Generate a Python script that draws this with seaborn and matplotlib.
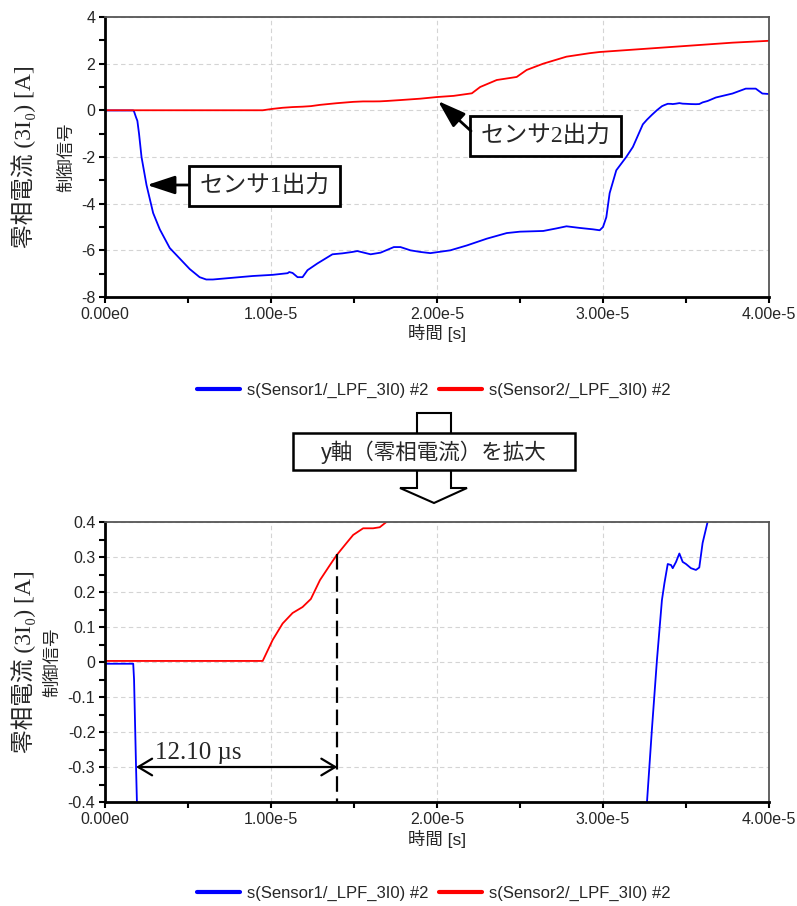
import numpy as np
import pandas as pd
import matplotlib
matplotlib.use("Agg")
import matplotlib.pyplot as plt
import seaborn as sns
from matplotlib.patches import Rectangle, Polygon
from matplotlib.lines import Line2D
from matplotlib.ticker import MultipleLocator

sns.set_style("white")
plt.rcParams["font.family"] = ["Liberation Sans", "Noto Sans CJK JP", "DejaVu Sans"]

# ---------------- data (time in microseconds, current in A) ----------------
t1_us = [0.0, 1.0, 1.70, 1.75, 1.87, 1.95, 2.05, 2.2, 2.5, 2.9, 3.3, 3.9, 4.5, 5.1, 5.7, 6.1,
         6.5, 7.3, 8.9, 10.1, 11.0, 11.1, 11.3, 11.6, 11.9, 12.2, 12.8, 13.4, 13.7,
         14.3, 14.9, 15.2, 15.6, 16.0, 16.6, 17.4, 17.8, 18.4, 19.0, 19.6, 20.8, 21.8,
         23.0, 24.2, 25.0, 26.4, 27.2, 27.8, 28.6, 29.4, 29.8, 30.0, 30.2, 30.4, 30.8,
         31.4, 31.8, 32.4, 32.65, 32.95, 33.25, 33.55, 33.7, 33.9, 34.1, 34.2, 34.4,
         34.6, 34.8, 35.0, 35.3, 35.6, 35.8, 36.0, 36.3, 36.8, 37.8, 38.6, 39.2, 39.6, 40.0]
s1 = [-0.005, -0.005, -0.005, -0.05, -0.30, -0.45, -1.0, -2.0, -3.2, -4.4, -5.1, -5.9, -6.35,
      -6.8, -7.15, -7.25, -7.25, -7.2, -7.1, -7.05, -6.98, -6.93, -6.97, -7.15, -7.15,
      -6.85, -6.56, -6.3, -6.17, -6.13, -6.07, -6.03, -6.1, -6.17, -6.1, -5.86, -5.86,
      -6.0, -6.07, -6.12, -6.0, -5.79, -5.5, -5.26, -5.2, -5.17, -5.06, -4.97, -5.04,
      -5.1, -5.14, -5.0, -4.58, -3.55, -2.57, -2.0, -1.57, -0.6, -0.40, -0.19, 0.006,
      0.177, 0.225, 0.28, 0.277, 0.268, 0.286, 0.31, 0.286, 0.28, 0.268, 0.263, 0.27,
      0.34, 0.40, 0.55, 0.72, 0.93, 0.93, 0.72, 0.70]

t2_us = [0.0, 5.0, 9.5, 10.1, 10.7, 11.3, 11.9, 12.4, 12.95, 13.55, 13.95, 14.55, 14.95,
         15.55, 16.15, 16.55, 16.95, 17.8, 19.0, 20.0, 21.0, 22.1, 22.6, 23.6, 24.8, 25.4,
         26.4, 27.8, 29.2, 29.8, 31.8, 33.8, 35.8, 37.8, 40.0]
s2 = [0.003, 0.003, 0.003, 0.063, 0.11, 0.14, 0.157, 0.18, 0.234, 0.277, 0.305, 0.34,
      0.363, 0.382, 0.382, 0.385, 0.40, 0.44, 0.50, 0.57, 0.62, 0.73, 1.0, 1.3, 1.43,
      1.73, 2.0, 2.3, 2.45, 2.5, 2.6, 2.7, 2.8, 2.9, 2.98]

series_names = ["s(Sensor1/_LPF_3I0) #2", "s(Sensor2/_LPF_3I0) #2"]
series_colors = ["#0000ff", "#ff0000"]

x_ticks = [0.0, 1e-5, 2e-5, 3e-5, 4e-5]
x_tick_labels = ["0.00e0", "1.00e-5", "2.00e-5", "3.00e-5", "4.00e-5"]
y_ticks_top = [4, 2, 0, -2, -4, -6, -8]
y_tick_labels_top = ["4", "2", "0", "-2", "-4", "-6", "-8"]
y_ticks_bot = [0.4, 0.3, 0.2, 0.1, 0.0, -0.1, -0.2, -0.3, -0.4]
y_tick_labels_bot = ["0.4", "0.3", "0.2", "0.1", "0", "-0.1", "-0.2", "-0.3", "-0.4"]

big_ylabel = "零相電流 (3I₀) [A]"
small_ylabel = "制御信号"
xlabel = "時間 [s]"
label1 = "センサ1出力"
label2 = "センサ2出力"
zoom_label = "y軸（零相電流）を拡大"
delta_label = "12.10 µs"

df = pd.concat([
    pd.DataFrame({"time": np.array(t1_us) * 1e-6, "value": s1, "series": series_names[0]}),
    pd.DataFrame({"time": np.array(t2_us) * 1e-6, "value": s2, "series": series_names[1]}),
], ignore_index=True)
palette = dict(zip(series_names, series_colors))

W, H = 797, 906
fig = plt.figure(figsize=(W / 100, H / 100), dpi=100)

def fx(px):
    return px / W

def fy(py):
    return 1 - py / H

ax1 = fig.add_axes([fx(105), fy(297), fx(769) - fx(105), fy(17) - fy(297)])
ax2 = fig.add_axes([fx(105), fy(802), fx(769) - fx(105), fy(522) - fy(802)])

serif_cjk = ["Liberation Serif", "Noto Sans CJK JP", "DejaVu Serif"]
sans_cjk = ["Liberation Sans", "Noto Sans CJK JP", "DejaVu Sans"]

for ax, yt, ytl, minor in [(ax1, y_ticks_top, y_tick_labels_top, 1.0),
                           (ax2, y_ticks_bot, y_tick_labels_bot, 0.05)]:
    sns.lineplot(data=df, x="time", y="value", hue="series", palette=palette,
                 estimator=None, sort=False, legend=False, linewidth=1.3, ax=ax)
    ax.set_xlim(0, 4e-5)
    ax.set_ylim(min(yt), max(yt))
    ax.set_xticks(x_ticks)
    ax.set_xticklabels(x_tick_labels)
    ax.set_yticks(yt)
    ax.set_yticklabels(ytl)
    ax.xaxis.set_minor_locator(MultipleLocator(0.5e-5))
    ax.yaxis.set_minor_locator(MultipleLocator(minor))
    ax.grid(True, which="major", color="#d4d4d4", linestyle=(0, (4, 3)), linewidth=0.8)
    ax.tick_params(axis="both", which="both", direction="out", length=4, width=1.5,
                   color="black", labelsize=11.5, pad=3, bottom=True, left=True)
    ax.tick_params(axis="both", which="minor", length=4)
    for s in ["left", "bottom"]:
        ax.spines[s].set_color("black")
        ax.spines[s].set_linewidth(2.0)
    for s in ["top", "right"]:
        ax.spines[s].set_color("#555555")
        ax.spines[s].set_linewidth(1.3)
    ax.set_xlabel(xlabel, fontsize=12.5, family=sans_cjk, labelpad=2)
    ax.set_ylabel(small_ylabel, fontsize=12.5, family=sans_cjk, labelpad=5)
    ax.set_facecolor("white")

# big y labels
for cy in [157, 662]:
    fig.text(fx(24), fy(cy), big_ylabel, rotation=90, ha="center", va="center",
             fontsize=17, family=serif_cjk)

# ---- top annotations ----
def px_to_data_x(px):
    return (px - 105) / 664 * 4e-5

def px_to_data_y_top(py):
    return 4 - (py - 17) / 280 * 12

# box 1
bx0, bx1, by0, by1 = 189, 340, 166, 206
ax1.add_patch(Rectangle((px_to_data_x(bx0), px_to_data_y_top(by1)),
                        px_to_data_x(bx1) - px_to_data_x(bx0),
                        px_to_data_y_top(by0) - px_to_data_y_top(by1),
                        facecolor="white", edgecolor="black", lw=2, zorder=5))
ax1.text(px_to_data_x((bx0 + bx1) / 2), px_to_data_y_top((by0 + by1) / 2 + 1), label1,
         ha="center", va="center", fontsize=17, family=serif_cjk, zorder=6)
ax1.annotate("", xy=(px_to_data_x(147), px_to_data_y_top(185)),
             xytext=(px_to_data_x(bx0), px_to_data_y_top(185)),
             arrowprops=dict(arrowstyle="-|>,head_length=0.85,head_width=0.28",
                             mutation_scale=20, color="black", lw=2,
                             shrinkA=0, shrinkB=0), zorder=6)
# box 2
bx0, bx1, by0, by1 = 470, 621, 116, 156
ax1.add_patch(Rectangle((px_to_data_x(bx0), px_to_data_y_top(by1)),
                        px_to_data_x(bx1) - px_to_data_x(bx0),
                        px_to_data_y_top(by0) - px_to_data_y_top(by1),
                        facecolor="white", edgecolor="black", lw=2, zorder=5))
ax1.text(px_to_data_x((bx0 + bx1) / 2), px_to_data_y_top((by0 + by1) / 2 + 1), label2,
         ha="center", va="center", fontsize=17, family=serif_cjk, zorder=6)
ax1.annotate("", xy=(px_to_data_x(438), px_to_data_y_top(101)),
             xytext=(px_to_data_x(471), px_to_data_y_top(131)),
             arrowprops=dict(arrowstyle="-|>,head_length=0.85,head_width=0.28",
                             mutation_scale=20, color="black", lw=2,
                             shrinkA=0, shrinkB=0), zorder=6)

# ---- bottom annotations ----
t_cross = 14.0e-6
ax2.plot([t_cross, t_cross], [0.31, -0.4], color="black", lw=1.6,
         linestyle=(0, (7, 3)), zorder=4, clip_on=False)
ax2.annotate("", xy=(1.87e-6, -0.3), xytext=(t_cross, -0.3),
             arrowprops=dict(arrowstyle="<->,head_length=0.5,head_width=0.3",
                             mutation_scale=20, color="black", lw=1.6,
                             shrinkA=0, shrinkB=0), zorder=4)
ax2.text(5.6e-6, -0.277, delta_label, ha="center", va="baseline", fontsize=18,
         family=["Liberation Serif", "DejaVu Serif"])

# ---- legends ----
handles = [Line2D([], [], color=c, lw=3) for c in series_colors]
for ly in [390, 893]:
    fig.legend(handles, series_names, loc="center", bbox_to_anchor=(fx(434), fy(ly)),
               ncol=2, frameon=False, handlelength=2.6, handletextpad=0.42,
               columnspacing=0.6, prop={"family": "Liberation Sans", "size": 12})

# ---- middle hollow arrow + box ----
arrow_pts = [(417, 413), (451, 413), (451, 488), (467, 488), (434, 503),
             (400, 488), (417, 488)]
fig.patches.append(Polygon([(fx(x), fy(y)) for x, y in arrow_pts], closed=True,
                           transform=fig.transFigure, facecolor="white",
                           edgecolor="black", lw=1.5, zorder=1))
fig.patches.append(Rectangle((fx(293), fy(470)), fx(575) - fx(293), fy(433) - fy(470),
                             transform=fig.transFigure, facecolor="white",
                             edgecolor="black", lw=1.8, zorder=2))
fig.text(fx(434), fy(452), zoom_label, ha="center", va="center", fontsize=15.5,
         family=sans_cjk, zorder=3)

fig.savefig("out.png", dpi=100, facecolor="white")
